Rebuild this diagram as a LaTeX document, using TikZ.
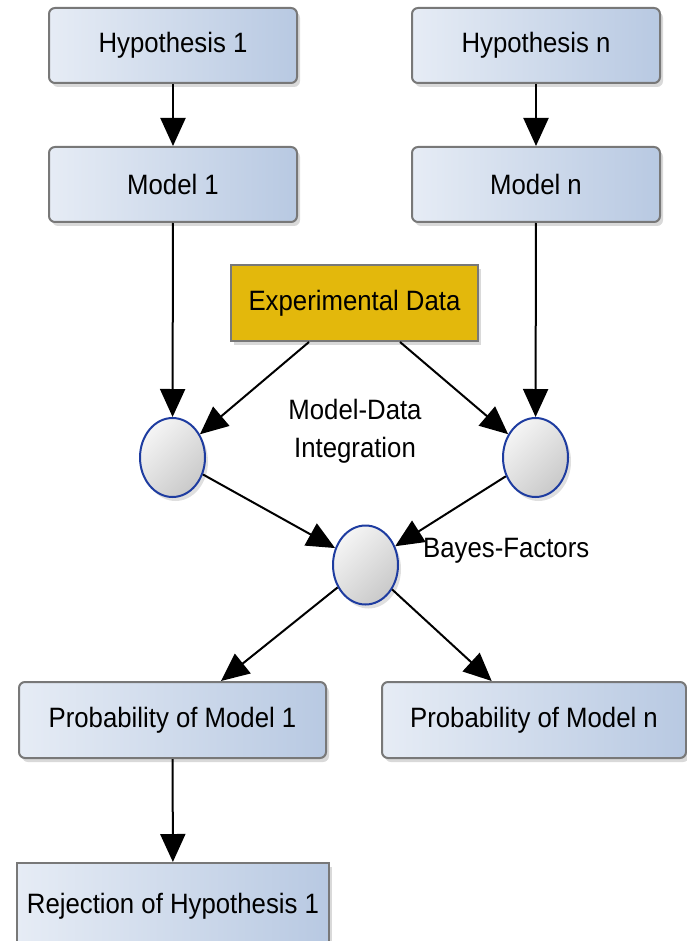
\documentclass[tikz,border=0pt]{standalone}
\usepackage{fontspec}
\setmainfont{Liberation Sans}[FakeStretch=0.92]
\usetikzlibrary{positioning,arrows.meta,shapes.geometric,shadows}
\definecolor{boxleft}{RGB}{230, 236, 245}
\definecolor{boxright}{RGB}{184, 201, 226}
\definecolor{boxline}{RGB}{120, 120, 120}
\definecolor{datagold}{RGB}{227, 184, 12}
\definecolor{ellline}{RGB}{30, 60, 160}

\begin{document}
\begin{tikzpicture}[
    x=1pt, y=-1pt,
    font=\fontsize{28}{38}\selectfont,
    box/.style={rectangle, draw=boxline, line width=2pt, left color=boxleft, right color=boxright, rounded corners=6pt, minimum width=248pt, minimum height=75pt, align=center, drop shadow={shadow xshift=3pt, shadow yshift=-4pt, opacity=0.3}},
    flatbox/.style={box, rounded corners=0pt},
    databox/.style={rectangle, draw=boxline, line width=2pt, fill=datagold, minimum width=247pt, minimum height=76pt, drop shadow={shadow xshift=3pt, shadow yshift=-4pt, opacity=0.3}},
    joint/.style={ellipse, draw=ellline, line width=2pt, top color=gray!8, bottom color=gray!42, shading angle=45, minimum width=65pt, minimum height=79pt, inner sep=0pt, drop shadow={shadow xshift=3pt, shadow yshift=-4pt, opacity=0.25}},
    arrow/.style={-{Triangle[width=25pt, length=28pt]}, line width=2pt, black}
  ]
    \useasboundingbox (0, 0) rectangle (687, 941);
    \clip (0, 0) rectangle (687, 941);

    \node[box] at (173, 45.5)   (hyp1)   {Hypothesis 1};
    \node[box] at (536, 45.5)   (hypn)   {Hypothesis n};
    \node[box] at (173, 184.5)  (model1) {Model 1};
    \node[box] at (536, 184.5)  (modeln) {Model n};
    \node[databox] at (354.5, 303) (data) {Experimental Data};

    \node[joint] at (172.5, 457.5) (mdi1) {};
    \node[joint] at (535.5, 457.5) (mdin) {};
    \node[joint] at (365.5, 565)   (bf)   {};
    \node[align=center] at (355, 431) (mdilabel) {Model-Data\\Integration};
    \node[anchor=west, inner sep=0pt] at (423, 551) (bflabel) {Bayes-Factors};

    \node[box, minimum width=307pt, minimum height=76pt] at (172.5, 720) (prob1) {Probability of Model 1};
    \node[box, minimum width=304pt, minimum height=76pt] at (534, 720)   (probn) {Probability of Model n};
    \node[flatbox, minimum width=312pt, minimum height=86pt] at (173, 906) (rej1) {Rejection of Hypothesis 1};

    \draw[arrow] (hyp1) -- (model1);
    \draw[arrow] (hypn) -- (modeln);
    \draw[arrow] (model1) -- (mdi1);
    \draw[arrow] (modeln) -- (mdin);
    \draw[arrow] ([xshift=-45.5pt]data.south) -- (mdi1);
    \draw[arrow] ([xshift=45.5pt]data.south) -- (mdin);
    \draw[arrow] (mdi1) -- (bf);
    \draw[arrow] (mdin) -- (bf);
    \draw[arrow] (bf) -- (prob1);
    \draw[arrow] (bf) -- (probn);
    \draw[arrow] (prob1) -- (rej1);
  \end{tikzpicture}
\end{document}
